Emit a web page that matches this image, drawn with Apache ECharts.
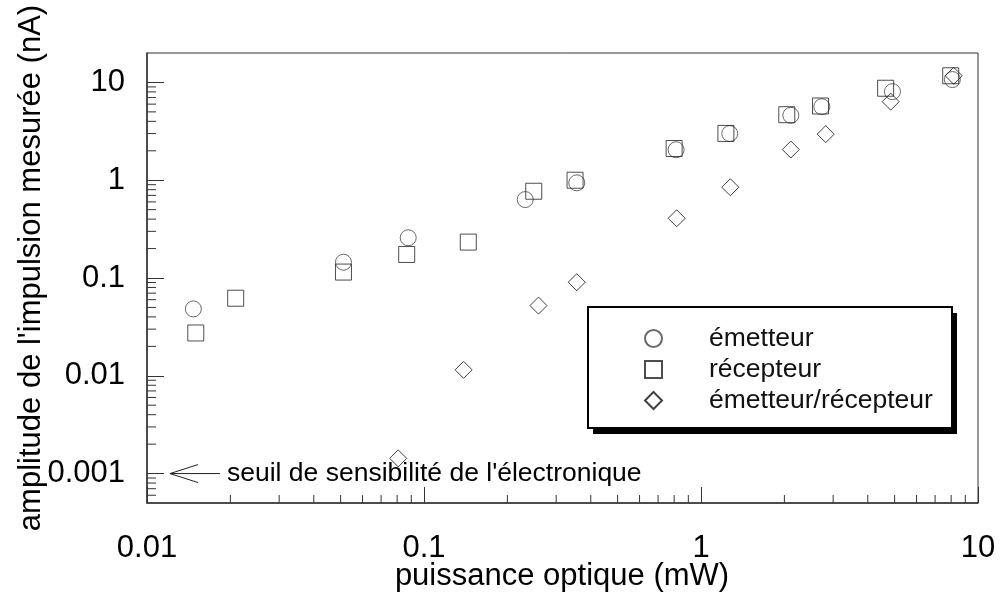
<!DOCTYPE html>
<html>
<head>
<meta charset="utf-8">
<title>Amplitude de l'impulsion mesurée</title>
<script src="https://cdn.jsdelivr.net/npm/echarts@6/dist/echarts.min.js"></script>
<style>
  html, body { margin: 0; padding: 0; background: #fff; }
  #chart { width: 1001px; height: 599px; }
</style>
</head>
<body>
<div id="chart"></div>
<script>
// Mesures : puissance optique (mW) et amplitude de l'impulsion (nA)
const emetteurX = [0.0147, 0.0512, 0.0877, 0.232, 0.356, 0.813, 1.27, 2.11, 2.73, 4.91, 8.08];
const emetteurY = [0.0483, 0.145, 0.258, 0.634, 0.94, 2.05, 3.0, 4.61, 5.65, 8.05, 10.7];

const recepteurX = [0.0150, 0.0209, 0.0512, 0.0866, 0.1445, 0.249, 0.351, 0.80, 1.23, 2.04, 2.70, 4.64, 7.97];
const recepteurY = [0.0274, 0.0621, 0.115, 0.174, 0.233, 0.771, 1.0, 2.11, 3.01, 4.68, 5.74, 8.72, 11.7];

const emRecX = [0.0807, 0.139, 0.259, 0.356, 0.817, 1.276, 2.11, 2.82, 4.84, 8.17];
const emRecY = [0.00143, 0.0115, 0.0522, 0.0906, 0.408, 0.848, 2.06, 2.96, 6.36, 11.7];

const seriesNames = ['émetteur', 'récepteur', 'émetteur/récepteur'];

// Axes logarithmiques
const xTickLabels = ['0.01', '0.1', '1', '10'];          // 10^-2 .. 10^1
const yTickLabels = ['0.001', '0.01', '0.1', '1', '10']; // 10^-3 .. 10^1
const xMin = 0.01, xMax = 10;
const yMin = 0.0005, yMax = 20;
const seuil = 0.001; // seuil de sensibilité de l'électronique (nA)

const FONT = "'Liberation Sans', Arial, Helvetica, sans-serif";
const AXIS = '#333';

function zip(xs, ys) { return xs.map((x, i) => [x, ys[i]]); }

// Graduations secondaires 2..9 de chaque décade
function minorTicks(lo, hi) {
  const out = [];
  for (let e = Math.floor(Math.log10(lo)); e <= Math.ceil(Math.log10(hi)); e++) {
    for (let k = 2; k <= 9; k++) {
      const v = +(k * Math.pow(10, e)).toPrecision(6);
      if (v > lo && v < hi) out.push(v);
    }
  }
  return out;
}
const xMinor = minorTicks(xMin, xMax);
const yMinor = minorTicks(yMin, yMax);

function decadeLabel(labels, firstExp) {
  return function (v) {
    const idx = Math.round(Math.log10(v)) - firstExp;
    return labels[idx] !== undefined ? labels[idx] : '';
  };
}

const markerStyle = (stroke) => ({
  color: 'rgba(255,255,255,0)',
  borderColor: stroke,
  borderWidth: 1
});

// Cadre de la légende (avec ombre portée)
const LEG = { x: 588, y: 307, w: 364, h: 121 };

const chart = echarts.init(document.getElementById('chart'), null, { renderer: 'canvas' });

const option = {
  animation: false,
  backgroundColor: '#fff',
  textStyle: { fontFamily: FONT },
  grid: {
    left: 147, right: 23, top: 53, bottom: 96,
    show: true, borderColor: AXIS, borderWidth: 1, backgroundColor: 'transparent'
  },
  xAxis: {
    type: 'log', logBase: 10, min: xMin, max: xMax,
    axisLine: { lineStyle: { color: AXIS, width: 1.5 } },
    axisTick: { inside: true, length: 16, lineStyle: { color: AXIS, width: 1 } },
    axisLabel: {
      fontSize: 31, color: '#000', fontFamily: FONT, margin: 30,
      formatter: decadeLabel(xTickLabels, -2)
    },
    splitLine: { show: false },
    minorTick: { show: false }
  },
  yAxis: {
    type: 'log', logBase: 10, min: yMin, max: yMax,
    axisLine: { lineStyle: { color: AXIS, width: 1.5 } },
    axisTick: { inside: true, length: 17, lineStyle: { color: AXIS, width: 1 } },
    axisLabel: {
      fontSize: 31, color: '#000', fontFamily: FONT, margin: 22,
      showMinLabel: false, showMaxLabel: false,
      formatter: decadeLabel(yTickLabels, -3)
    },
    splitLine: { show: false },
    minorTick: { show: false }
  },
  legend: {
    data: seriesNames,
    orient: 'vertical',
    left: LEG.x, top: LEG.y,
    padding: [18, 20, 14, 56],
    itemWidth: 17, itemHeight: 17, itemGap: 4,
    textStyle: {
      fontSize: 26.5, fontFamily: FONT, color: '#111',
      padding: [0, 0, 0, 42]
    },
    selectedMode: false,
    z: 10
  },
  series: [
    {
      name: seriesNames[0], type: 'scatter', symbol: 'circle', symbolSize: 16,
      itemStyle: markerStyle('#444'), data: zip(emetteurX, emetteurY), z: 3
    },
    {
      name: seriesNames[1], type: 'scatter', symbol: 'rect', symbolSize: 16,
      itemStyle: markerStyle('#222'), data: zip(recepteurX, recepteurY), z: 3
    },
    {
      name: seriesNames[2], type: 'scatter', symbol: 'diamond', symbolSize: 17,
      itemStyle: markerStyle('#111'), data: zip(emRecX, emRecY), z: 3
    },
    {
      // graduations secondaires de l'axe des x
      type: 'custom', silent: true, clip: false, z: 1,
      data: xMinor.map(v => [v, yMin]),
      renderItem: function (params, api) {
        const p = api.coord([api.value(0), yMin]);
        return {
          type: 'line',
          shape: { x1: p[0], y1: p[1], x2: p[0], y2: p[1] - 8 },
          style: { stroke: AXIS, lineWidth: 1 }
        };
      }
    },
    {
      // graduations secondaires de l'axe des y
      type: 'custom', silent: true, clip: false, z: 1,
      data: yMinor.map(v => [xMin, v]),
      renderItem: function (params, api) {
        const p = api.coord([xMin, api.value(1)]);
        return {
          type: 'line',
          shape: { x1: p[0], y1: p[1], x2: p[0] + 9, y2: p[1] },
          style: { stroke: AXIS, lineWidth: 1 }
        };
      }
    }
  ]
};

chart.setOption(option);

// Titres des axes, cadre de légende et flèche du seuil de sensibilité
const s = chart.convertToPixel({ gridIndex: 0 }, [xMin, seuil]);
const tipX = s[0] + 23, tipY = s[1];
chart.setOption({
  graphic: [
    {
      type: 'rect', z: 5,
      shape: { x: LEG.x + 5, y: LEG.y + 6, width: LEG.w, height: LEG.h },
      style: { fill: '#000' }
    },
    {
      type: 'rect', z: 6,
      shape: { x: LEG.x, y: LEG.y, width: LEG.w, height: LEG.h },
      style: { fill: '#fff', stroke: '#000', lineWidth: 2 }
    },
    {
      type: 'text', x: 562, y: 576,
      style: {
        text: 'puissance optique (mW)', font: '31px ' + FONT, fill: '#000',
        textAlign: 'center', textVerticalAlign: 'middle'
      }
    },
    {
      type: 'text', x: 31, y: 268, rotation: Math.PI / 2,
      style: {
        text: "amplitude de l'impulsion mesurée (nA)", font: '31px ' + FONT, fill: '#000',
        textAlign: 'center', textVerticalAlign: 'middle'
      }
    },
    {
      type: 'polyline',
      shape: { points: [[tipX + 28, tipY - 9], [tipX, tipY], [tipX + 28, tipY + 9]] },
      style: { stroke: '#222', lineWidth: 1, fill: null }
    },
    {
      type: 'line',
      shape: { x1: tipX, y1: tipY, x2: tipX + 50, y2: tipY },
      style: { stroke: '#222', lineWidth: 1 }
    },
    {
      type: 'text', x: tipX + 57, y: tipY,
      style: {
        text: "seuil de sensibilité de l'électronique", font: '26.5px ' + FONT, fill: '#000',
        textAlign: 'left', textVerticalAlign: 'middle'
      }
    }
  ]
});
</script>
</body>
</html>
